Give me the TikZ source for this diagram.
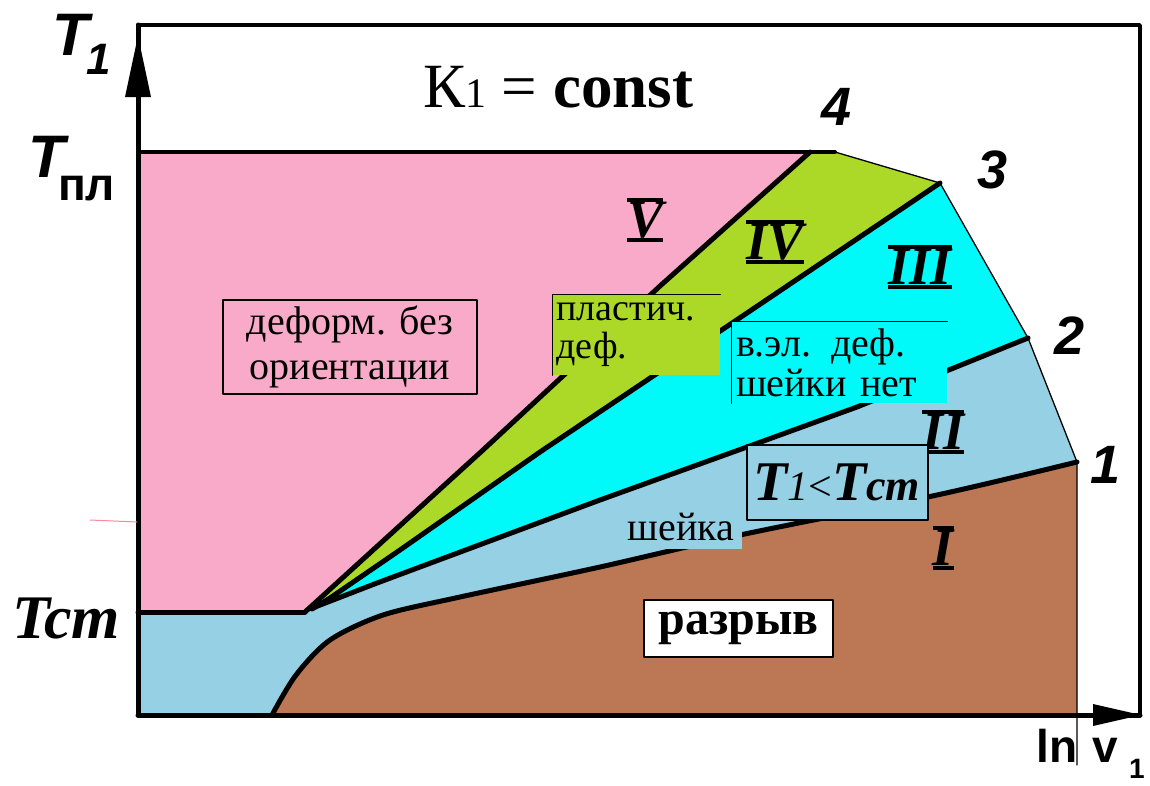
\documentclass[tikz,border=0pt]{standalone}
\usepackage{fontspec}
\setmainfont{Liberation Serif}
\newfontfamily\axfont{Liberation Sans}
\definecolor{cpink}{RGB}{248,170,200}
\definecolor{cgreen}{RGB}{172,216,40}
\definecolor{ccyan}{RGB}{0,250,250}
\definecolor{clblue}{RGB}{150,208,228}
\definecolor{cbrown}{RGB}{188,120,84}
\newcommand\romnum[1]{\setbox0\hbox{\fontsize{54}{54}\selectfont\bfseries\itshape #1}\vbox{\hrule height 4pt\kern0pt\copy0\kern0pt\hrule height 4pt}}
\tikzset{
  bline/.style={line width=5pt},
  tline/.style={line width=1.3pt},
  frameline/.style={line width=3.5pt},
  lbl/.style={inner sep=0pt, font=\fontsize{40}{45}\selectfont},
  digit/.style={inner sep=0pt, font=\axfont\bfseries\itshape\fontsize{54}{54}\selectfont},
  rn/.style={inner sep=0pt},
}
\begin{document}
\begin{tikzpicture}[x=1pt,y=-1pt,line join=round,line cap=round]
\useasboundingbox (0,0) rectangle (1150,785);
\fill[white] (0,0) rectangle (1150,785);
% key points
\coordinate (O) at (138,715);
\coordinate (P) at (305,612);
\coordinate (Tst) at (138,612);
\coordinate (Tpl) at (138,152);
\coordinate (F4) at (810,152);
\coordinate (K4) at (835,152);
\coordinate (K3) at (940,183);
\coordinate (K2) at (1028,338);
\coordinate (K1) at (1077,462);
\coordinate (B) at (272,715);
\coordinate (Bx) at (1077,715);
\coordinate (Vend) at (1077,765);
\coordinate (TopL) at (138,25);
\coordinate (TopR) at (1140,25);
\coordinate (BotR) at (1140,715);
% fills
\fill[clblue] (Tst) -- (P) -- (K3) -- (K2) -- (K1) -- (Bx) -- (O) -- cycle;
\fill[cgreen] (F4) -- (K4) -- (K3) -- (750,311) -- (540,452) -- (400,550) -- (330,598) -- (P) -- (483,450) -- (660,286) -- cycle;
\fill[ccyan] (K3) -- (750,311) -- (540,452) -- (400,550) -- (330,598) -- (312,609) -- (377,583) -- (600,500) -- (747,447) -- (857,407) -- (K2) -- cycle;
\fill[cpink] (Tpl) -- (F4) -- (660,286) -- (483,450) -- (P) -- (Tst) -- cycle;
\fill[cbrown] plot[smooth] coordinates {(272,715) (296,675) (330,640) (383,615) (460,597) (600,567) (740,535) (937,495) (1077,462)} -- (Bx) -- cycle;
% boundaries
\draw[bline] (Tst) -- (P);
\draw[bline] (F4) -- (660,286) -- (483,450) -- (P);
\draw[bline] (K3) -- (750,311) -- (540,452) -- (400,550) -- (330,598) -- (312,609);
\draw[bline] (K2) -- (857,407) -- (747,447) -- (600,500) -- (377,583) -- (315,607);
\draw[bline] plot[smooth] coordinates {(1077,462) (937,495) (740,535) (600,567) (460,597) (383,615) (330,640) (296,675) (272,715)};
\draw[tline] (K4) -- (K3) -- (K2) -- (K1) -- (Vend);
\draw[line width=4pt] (Tpl) -- (K4);
% frame and axes
\draw[frameline] (TopL) -- (TopR) -- (BotR);
\draw[line width=5pt] (O) -- (TopL);
\draw[line width=5pt] (O) -- (BotR);
\fill (138,36) -- (125,97) -- (151,97) -- cycle;
\fill (1141,715) -- (1093,704) -- (1093,726) -- cycle;
\draw[color=cpink!80!red, line width=1pt] (90,520) -- (137,522);
% axis labels
\node[inner sep=0pt, anchor=base west, font=\axfont\bfseries\itshape\fontsize{60}{60}\selectfont] (t1T) at (52,55) {T};
\node[inner sep=0pt, anchor=base west, font=\axfont\bfseries\itshape\fontsize{44}{44}\selectfont] (t1s) at (86,74) {1};
\node[inner sep=0pt, anchor=base west, font=\axfont\bfseries\itshape\fontsize{60}{60}\selectfont] (tplT) at (28,177) {T};
\node[inner sep=0pt, anchor=base west, font=\axfont\bfseries\fontsize{46}{46}\selectfont] (tpls) at (58,200) {пл};
\node[inner sep=0pt, anchor=base west, font=\bfseries\itshape\fontsize{62}{62}\selectfont] (tcm) at (12,638) {Tcm};
\node[inner sep=0pt, anchor=base west, font=\axfont\bfseries\fontsize{46}{46}\selectfont] (lnv) at (1036,762) {ln\,\,v};
\node[inner sep=0pt, anchor=base west, font=\axfont\bfseries\fontsize{28}{28}\selectfont] (lnvs) at (1129,778) {1};
% title
\node[inner sep=0pt, anchor=base west] (title) at (423,107) {\fontsize{63}{63}\selectfont К{\fontsize{42}{42}\selectfont 1} = \textbf{const}};
% point numbers
\node[digit] (n4) at (837,107) {4};
\node[digit] (n3) at (993,170) {3};
\node[digit] (n2) at (1069,336) {2};
\node[digit] (n1) at (1105,465) {1};
% roman numerals
\node[rn] (r5) at (645,220) {\romnum{V}};
\node[rn] (r4) at (775,242) {\romnum{IV}};
\node[rn] (r3) at (920,267) {\romnum{III}};
\node[rn] (r2) at (943,432) {\romnum{II}};
\node[rn] (r1) at (943,548) {\romnum{I}};
% label boxes
\node[lbl, draw, line width=1.3pt, fill=cpink, minimum width=254pt, minimum height=94pt, align=center] (deform) at (350,347) {деформ. без\\ориентации};
\node[lbl, fill=cgreen, minimum width=167pt, minimum height=80pt, text width=160pt, align=left, font=\fontsize{38}{38}\selectfont] (plast) at (636.5,335) {пластич.\\деф.};
\draw[line width=1.3pt] (plast.south west) -- (plast.north west) -- (plast.north east);
\node[lbl, fill=ccyan, minimum width=215pt, minimum height=81pt, text width=207pt, align=left, font=\fontsize{40}{40}\selectfont] (vel) at (839.5,362.5) {в.эл. деф.\\шейки нет};
\draw[line width=1.3pt] (vel.south west) -- (vel.north west) -- (vel.north east);
\node[lbl, fill=clblue, minimum width=122pt, minimum height=43pt] (sheika) at (681,527) {шейка};
\node[inner sep=0pt, draw, line width=1.3pt, fill=clblue, minimum width=181pt, minimum height=75pt] (tlt) at (837.5,482.5) {};
\node[inner sep=0pt, anchor=base west] (tltx) at (753,500) {{\fontsize{56}{56}\selectfont\bfseries\itshape T}{\fontsize{42}{42}\selectfont\itshape 1}{\fontsize{42}{42}\selectfont <}{\fontsize{56}{56}\selectfont\bfseries\itshape T}{\fontsize{44}{44}\selectfont\bfseries\itshape cm}};
\node[inner sep=0pt, draw, line width=1.3pt, fill=white, minimum width=189pt, minimum height=57pt, font=\bfseries\fontsize{48}{48}\selectfont] (razryv) at (738.5,628.5) {разрыв};
\end{tikzpicture}
\end{document}
